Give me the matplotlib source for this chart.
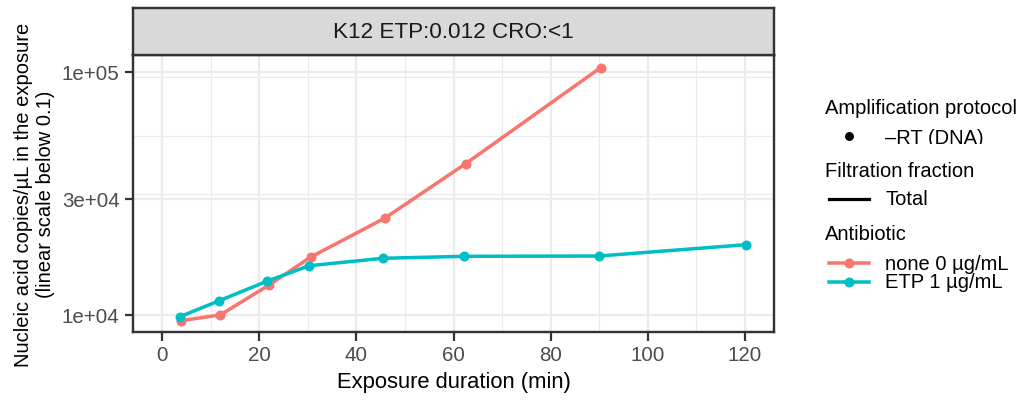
import matplotlib
matplotlib.use("Agg")
import matplotlib.pyplot as plt
from matplotlib.ticker import FixedLocator, FixedFormatter, NullFormatter
from matplotlib.lines import Line2D
from matplotlib.transforms import Bbox, TransformedBbox

plt.rcParams['font.family'] = ['Liberation Sans', 'DejaVu Sans']

# data
none_min = [3.8, 11.9, 21.9, 30.6, 45.9, 62.5, 90.3]
none_copies = [9450, 9970, 13210, 17280, 25000, 41820, 103870]
etp_min = [3.6, 11.6, 21.5, 30.3, 45.5, 62.2, 90.0, 120.3]
etp_copies = [9810, 11390, 13720, 15910, 17070, 17390, 17440, 19420]

series_labels = ['none 0 µg/mL', 'ETP 1 µg/mL']
series_colors = ['#F8766D', '#00BFC4']

x_ticks = [0, 20, 40, 60, 80, 100, 120]
x_minor = [10, 30, 50, 70, 90, 110]
y_ticks = [1e4, 3e4, 1e5]
y_tick_labels = ['1e+04', '3e+04', '1e+05']
y_minor = [31400, 54600, 95500]

W, H = 1022, 402
PX = 0.72  # px -> pt at dpi 100

fig = plt.figure(figsize=(W / 100, H / 100), dpi=100)

# panel position in pixels
pl, pr, pt, pb = 132.7, 774.3, 56.0, 333.3
ax = fig.add_axes([pl / W, 1 - pb / H, (pr - pl) / W, (pb - pt) / H])

grid_col = '#EBEBEB'
border_col = '#333333'

ax.set_yscale('log')
ax.set_xlim(-6.1, 126.1)
ax.set_ylim(8465, 117140)

ax.xaxis.set_major_locator(FixedLocator(x_ticks))
ax.xaxis.set_minor_locator(FixedLocator(x_minor))
ax.yaxis.set_major_locator(FixedLocator(y_ticks))
ax.yaxis.set_major_formatter(FixedFormatter(y_tick_labels))
ax.yaxis.set_minor_locator(FixedLocator(y_minor))
ax.yaxis.set_minor_formatter(NullFormatter())

ax.grid(which='major', color=grid_col, linewidth=2.2 * PX)
ax.grid(which='minor', color=grid_col, linewidth=1.2 * PX)
ax.set_axisbelow(True)

ax.tick_params(which='major', length=8.5 * PX, width=2.2 * PX, color=border_col,
               labelsize=20.5 * PX, labelcolor='#4D4D4D', pad=4.5 * PX)
ax.tick_params(which='minor', length=0)

for s in ax.spines.values():
    s.set_color(border_col)
    s.set_linewidth(2.4 * PX)

for xs, ys, c in [(none_min, none_copies, series_colors[0]),
                  (etp_min, etp_copies, series_colors[1])]:
    ax.plot(xs, ys, color=c, linewidth=3.5 * PX, marker='o',
            markersize=10 * PX, markeredgewidth=0, zorder=3)

ax.set_xlabel('Exposure duration (min)', fontsize=22 * PX, labelpad=7 * PX)
ax.set_ylabel('Nucleic acid copies/µL in the exposure\n(linear scale below 0.1)',
              fontsize=20.2 * PX, labelpad=7 * PX, linespacing=1.18)

# facet strip
st = 8.5
sax = fig.add_axes([pl / W, 1 - pt / H, (pr - pl) / W, (pt - st) / H])
sax.set_facecolor('#D9D9D9')
sax.set_xticks([])
sax.set_yticks([])
for s in sax.spines.values():
    s.set_color(border_col)
    s.set_linewidth(2.4 * PX)
sax.text(0.5, 0.5, 'K12 ETP:0.012 CRO:<1', ha='center', va='center',
         fontsize=22.5 * PX, color='#1A1A1A', transform=sax.transAxes)


# legends, drawn in pixel coordinates
def fx(x):
    return x / W


def fy(y):
    return 1 - y / H


leg_fs = 20.2 * PX
tx = 824.5
fig.text(fx(tx), fy(108), 'Amplification protocol', fontsize=leg_fs, va='center')
fig.add_artist(Line2D([fx(849)], [fy(137)], marker='o', color='black',
                      markersize=7.5 * PX, linestyle='none'))
lab = fig.text(fx(885), fy(138), '\u2013RT (DNA)', fontsize=leg_fs, va='center')
lab.set_clip_box(TransformedBbox(Bbox([[fx(870), fy(145)], [fx(1020), fy(120)]]),
                                 fig.transFigure))
lab.set_clip_on(True)

fig.text(fx(tx), fy(171.5), 'Filtration fraction', fontsize=leg_fs, va='center')
fig.add_artist(Line2D([fx(829), fx(869)], [fy(200), fy(200)], color='black',
                      linewidth=3.2 * PX))
fig.text(fx(885), fy(200), 'Total', fontsize=leg_fs, va='center')

fig.text(fx(tx), fy(235), 'Antibiotic', fontsize=leg_fs, va='center')
for yy, lbl, c in zip([264, 283], series_labels, series_colors):
    fig.add_artist(Line2D([fx(829), fx(869)], [fy(yy), fy(yy)], color=c,
                          linewidth=3.5 * PX))
    fig.add_artist(Line2D([fx(849)], [fy(yy)], marker='o', color=c,
                          markersize=10 * PX, markeredgewidth=0, linestyle='none'))
    fig.text(fx(885), fy(yy), lbl, fontsize=leg_fs, va='center')

fig.savefig('out.png', dpi=100)
